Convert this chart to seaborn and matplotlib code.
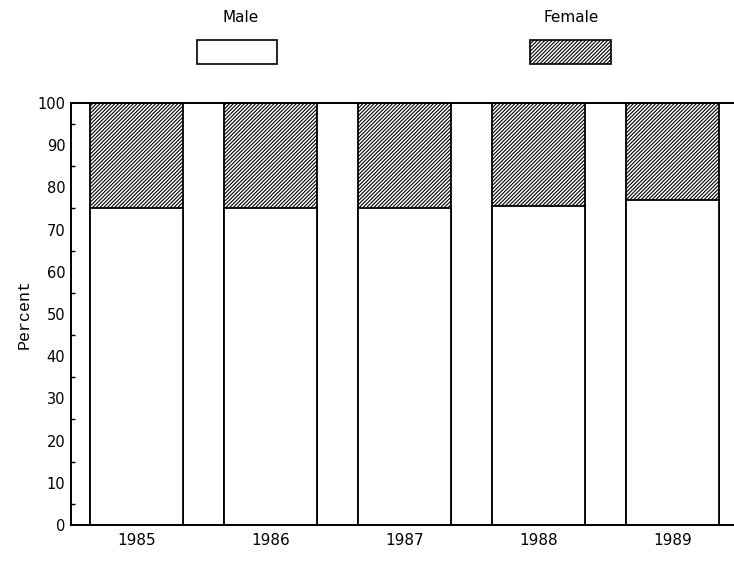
import matplotlib
matplotlib.use("Agg")
import matplotlib.pyplot as plt
import seaborn as sns
import pandas as pd
from matplotlib.patches import Rectangle
from matplotlib.ticker import MultipleLocator

# data
years = ["1985", "1986", "1987", "1988", "1989"]
male = [75, 75, 75, 75.5, 77]
female = [100 - m for m in male]

df = pd.DataFrame({"year": years, "male": male, "total": [m + f for m, f in zip(male, female)]})

sns.set_style("white")
plt.rcParams["font.family"] = ["DejaVu Sans"]
plt.rcParams["hatch.linewidth"] = 0.8
plt.rcParams["text.color"] = "black"
plt.rcParams["xtick.color"] = "black"
plt.rcParams["ytick.color"] = "black"
plt.rcParams["axes.labelcolor"] = "black"

fig = plt.figure(figsize=(7.34, 5.65), dpi=100)
ax = fig.add_axes([0.0967, 0.0708, 0.9033, 0.747])

# female on the bottom layer (full height), male drawn over it
sns.barplot(data=df, x="year", y="total", color="white", edgecolor="black",
            linewidth=1.3, width=0.69, hatch="/////////", saturation=1, ax=ax)
sns.barplot(data=df, x="year", y="male", color="white", edgecolor="black",
            linewidth=1.3, width=0.69, saturation=1, ax=ax)

ax.set_xlim(-0.49, 4.46)
ax.set_ylim(0, 100)
ax.yaxis.set_major_locator(MultipleLocator(10))
ax.yaxis.set_minor_locator(MultipleLocator(5))
ax.tick_params(axis="y", which="major", direction="in", length=5, width=1.2, labelsize=10.5, pad=4)
ax.tick_params(axis="y", which="minor", direction="in", length=3, width=1.0, left=True)
ax.tick_params(axis="x", length=0, labelsize=11, pad=6)
ax.set_xlabel("")
ax.set_ylabel("Percent", family="Liberation Mono", fontsize=12, labelpad=4)
for s in ["left", "bottom", "top"]:
    ax.spines[s].set_linewidth(1.4)
    ax.spines[s].set_color("black")
ax.spines["right"].set_visible(False)

# legend: labels above boxes
W, H = 734, 565
def fx(px):
    return px / W
def fy(py):
    return 1 - py / H

fig.add_artist(Rectangle((fx(197), fy(64)), fx(277) - fx(197), fy(40) - fy(64),
                         transform=fig.transFigure, facecolor="white", edgecolor="black", linewidth=1.2))
fig.add_artist(Rectangle((fx(530), fy(64)), fx(611) - fx(530), fy(40) - fy(64),
                         transform=fig.transFigure, facecolor="white", edgecolor="black",
                         linewidth=1.2, hatch="/////////"))
fig.text(fx(241), fy(18), "Male", ha="center", va="center", fontsize=11)
fig.text(fx(571), fy(18), "Female", ha="center", va="center", fontsize=11)

fig.savefig("out.png", dpi=100)
